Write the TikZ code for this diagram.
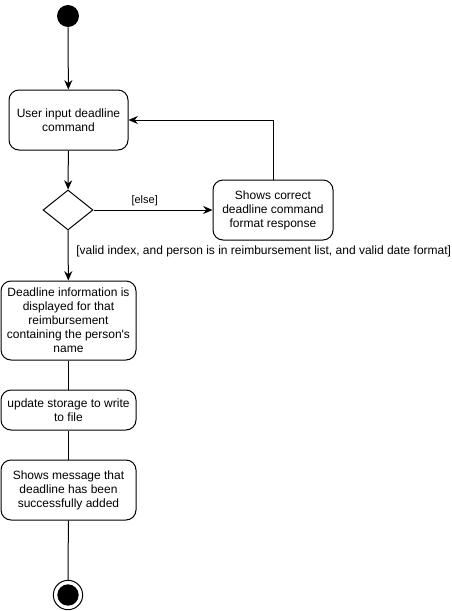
\documentclass[tikz,border=0pt]{standalone}
\usepackage{fontspec}
\setmainfont{Liberation Sans}
\usetikzlibrary{arrows.meta,shapes.geometric}
\begin{document}
\begin{tikzpicture}[x=0.75pt,y=-0.75pt,
  act/.style={draw,rounded corners=7.5pt,line width=0.75pt,align=center,inner sep=0pt,font=\fontsize{9}{10.5}\selectfont},
  dec/.style={draw,diamond,line width=0.75pt,minimum width=37.5pt,minimum height=30pt,inner sep=0pt,aspect=1.25},
  flow/.style={line width=0.75pt,-{Stealth[length=7pt,width=6pt]}},
  plain/.style={line width=0.75pt},
  lbl/.style={font=\fontsize{8.25}{10}\selectfont,inner sep=0pt}]
\useasboundingbox (0,0) rectangle (451,611);
\node[circle,fill=black,minimum size=16.5pt,inner sep=0pt] (start) at (68,16) {};
\node[act,minimum width=89.25pt,minimum height=45pt] (input) at (68.5,120) {User input deadline\\command};
\node[dec,minimum width=37.5pt,minimum height=30pt] (d) at (68,210) {};
\node[act,minimum width=90pt,minimum height=45pt] (err) at (273,210) {Shows correct\\deadline command\\format response};
\node[act,minimum width=101.25pt,minimum height=59.25pt] (info) at (68.5,320.5) {Deadline information is\\displayed for that\\reimbursement\\containing the person\textquotesingle s\\name};
\node[act,minimum width=101.25pt,minimum height=30pt] (store) at (68.5,410) {update storage to write\\to file};
\node[act,minimum width=101.25pt,minimum height=45pt] (msg) at (68.5,490) {Shows message that\\deadline has been\\successfully added};
\node[circle,draw,line width=0.75pt,minimum size=22pt,inner sep=0pt] (end) at (68,595) {};
\node[circle,fill=black,minimum size=16pt,inner sep=0pt] at (end) {};
\draw[flow] (start) -- (input);
\draw[flow] (input) -- (d);
\draw[flow] (d) -- node[lbl,above=3pt,pos=0.43] {[else]} (err);
\draw[flow] (err.north) |- (input.east);
\draw[flow] (d) -- (info);
\node[lbl,anchor=west,font=\fontsize{9}{10.5}\selectfont] (guard) at (76,251) {[valid index, and person is in reimbursement list, and valid date format]};
\draw[plain] (info) -- (store);
\draw[plain] (store) -- (msg);
\draw[plain] (msg) -- (end);
\end{tikzpicture}
\end{document}
